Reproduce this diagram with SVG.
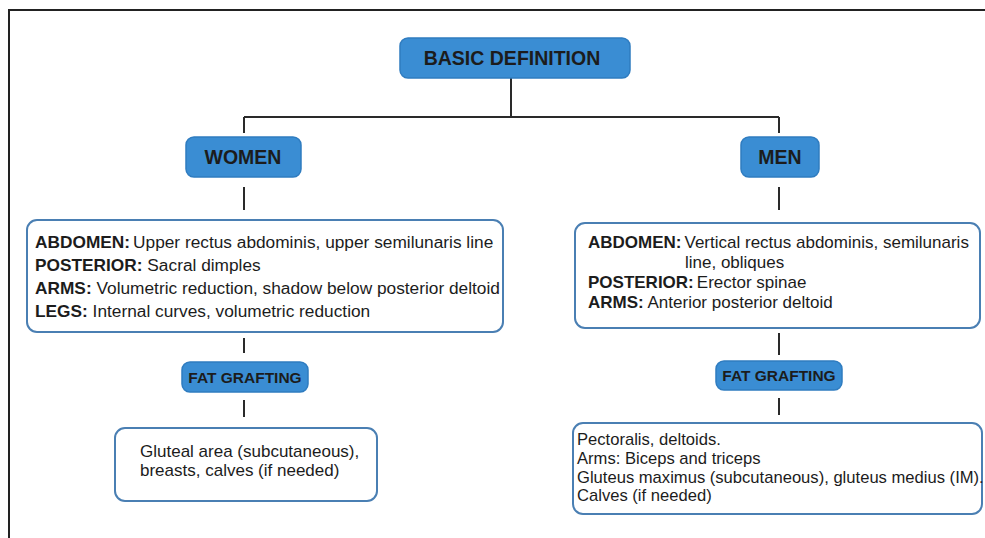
<svg xmlns="http://www.w3.org/2000/svg" width="985" height="538" viewBox="0 0 985 538">
<style>
.hdr{fill:#3a8dd3;stroke:#2f7cc0;stroke-width:1.5}
.box{fill:#ffffff;stroke:#4a7fb3;stroke-width:2}
.t{font-family:"Liberation Sans",Arial,sans-serif;fill:#1c1c1c}
.h{font-weight:bold;font-size:19.5px}
.f{font-weight:bold;font-size:15.5px}
.b{font-size:17px}
.w{font-size:17.3px}
.g{font-size:16.6px}
.bb{font-weight:bold}
.c{stroke:#2a2a2a;stroke-width:2;fill:none}
</style>
<rect x="0" y="0" width="985" height="538" fill="#ffffff"/>
<g id="frame"><path d="M9,538 V10 H985" fill="none" stroke="#222" stroke-width="2"/></g>
<g id="connectors">
<path class="c" d="M511,78 V117 M244,117 H779 M244,117 V133 M779,117 V133"/>
<path class="c" d="M244,187 V210 M779,187 V210"/>
<path class="c" d="M244,338 V353 M779,333 V355"/>
<path class="c" d="M244,400 V417 M779,398 V415"/>
</g>
<g id="basic">
<rect class="hdr" x="400" y="38" width="230" height="40" rx="8"/>
<text class="t h" x="512" y="65" text-anchor="middle">BASIC DEFINITION</text>
</g>
<g id="women">
<rect class="hdr" x="186" y="137" width="115" height="40" rx="8"/>
<text class="t h" x="243" y="164" text-anchor="middle">WOMEN</text>
</g>
<g id="men">
<rect class="hdr" x="741" y="137" width="78" height="40" rx="8"/>
<text class="t h" x="780" y="164" text-anchor="middle">MEN</text>
</g>
<g id="women-def">
<rect class="box" x="27" y="220" width="476" height="112" rx="10"/>
<text class="t w" x="35" y="248"><tspan class="bb">ABDOMEN:</tspan><tspan dx="3">Upper rectus abdominis, upper semilunaris line</tspan></text>
<text class="t w" x="35" y="271"><tspan class="bb">POSTERIOR:</tspan> Sacral dimples</text>
<text class="t w" x="35" y="294"><tspan class="bb">ARMS:</tspan> Volumetric reduction, shadow below posterior deltoid</text>
<text class="t w" x="35" y="317"><tspan class="bb">LEGS:</tspan> Internal curves, volumetric reduction</text>
</g>
<g id="men-def">
<rect class="box" x="575" y="223" width="405" height="105" rx="10"/>
<text class="t b" x="588" y="248"><tspan class="bb">ABDOMEN:</tspan><tspan dx="3">Vertical rectus abdominis, semilunaris</tspan></text>
<text class="t b" x="685" y="268">line, obliques</text>
<text class="t b" x="588" y="288"><tspan class="bb">POSTERIOR:</tspan><tspan dx="3">Erector spinae</tspan></text>
<text class="t b" x="588" y="308"><tspan class="bb">ARMS:</tspan> Anterior posterior deltoid</text>
</g>
<g id="women-fat">
<rect class="hdr" x="182" y="362" width="126" height="30" rx="8"/>
<text class="t f" x="245" y="383" text-anchor="middle">FAT GRAFTING</text>
</g>
<g id="men-fat">
<rect class="hdr" x="716" y="361" width="126" height="29" rx="8"/>
<text class="t f" x="779" y="381" text-anchor="middle">FAT GRAFTING</text>
</g>
<g id="women-graft">
<rect class="box" x="115" y="428" width="262" height="73" rx="10"/>
<text class="t b" x="140" y="457">Gluteal area (subcutaneous),</text>
<text class="t b" x="140" y="476">breasts, calves (if needed)</text>
</g>
<g id="men-graft">
<rect class="box" x="573" y="423" width="409" height="91" rx="10"/>
<text class="t g" x="577" y="445">Pectoralis, deltoids.</text>
<text class="t g" x="577" y="464">Arms: Biceps and triceps</text>
<text class="t g" x="577" y="483">Gluteus maximus (subcutaneous), gluteus medius (IM).</text>
<text class="t g" x="577" y="501">Calves (if needed)</text>
</g>
</svg>
